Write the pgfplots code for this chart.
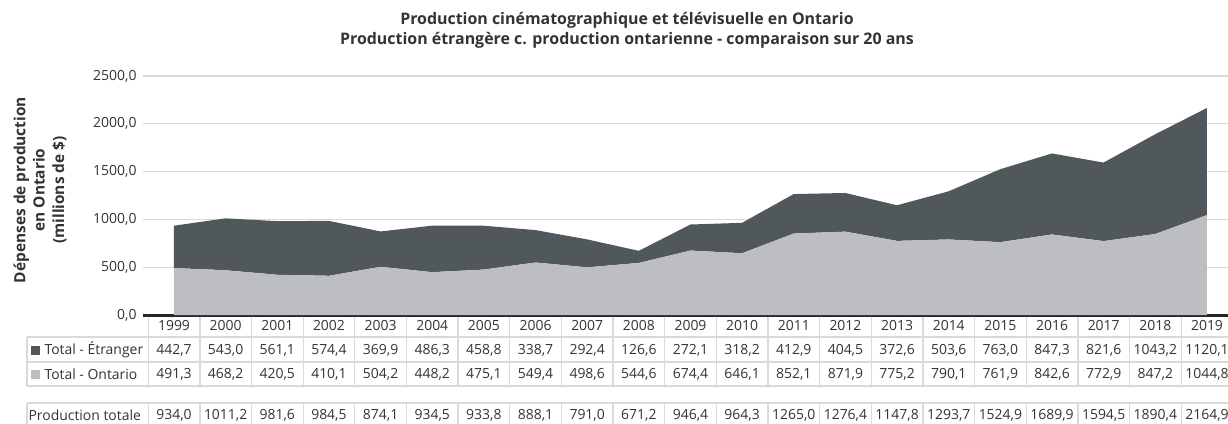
\documentclass[border=0pt]{standalone}
\usepackage{fontspec}
\setmainfont{Open Sans}
\usepackage{pgfplots}
\usepackage{pgfplotstable}
\usetikzlibrary{calc}
\pgfplotsset{compat=1.18}
\definecolor{etr}{HTML}{51585B}
\definecolor{ont}{HTML}{BDBEC1}
\definecolor{gridc}{HTML}{D9D9D9}
\definecolor{txt}{HTML}{333333}

\pgfplotstableread{
x ontario etranger
0 491.3 442.7
1 468.2 543.0
2 420.5 561.1
3 410.1 574.4
4 504.2 369.9
5 448.2 486.3
6 475.1 458.8
7 549.4 338.7
8 498.6 292.4
9 544.6 126.6
10 674.4 272.1
11 646.1 318.2
12 852.1 412.9
13 871.9 404.5
14 775.2 372.6
15 790.1 503.6
16 761.9 763.0
17 842.6 847.3
18 772.9 821.6
19 847.2 1043.2
20 1044.8 1120.1
}\datatable

\newcommand{\tf}{\fontsize{14}{16}\selectfont}
\newcommand{\yf}{\fontsize{14}{16}\selectfont}

\begin{document}
\begin{tikzpicture}
\begin{axis}[
  scale only axis, width=1085bp, height=239bp,
  xmin=-0.6, xmax=20.41, ymin=0, ymax=2500,
  ytick={0,500,...,2500},
  xtick=\empty,
  ymajorgrids,
  grid style={gridc, line width=1.3bp},
  axis x line*=bottom, axis y line*=left,
  y axis line style={draw=none},
  x axis line style={draw=black!85, line width=3bp, -},
  major tick length=0pt,
  stack plots=y,
  /pgf/number format/.cd, fixed, fixed zerofill, precision=1, use comma, 1000 sep={}, assume math mode=true,
  /pgfplots/.cd,
  yticklabel style={font=\yf, text=txt, anchor=east, xshift=-3bp},
]
\addplot[fill=ont, draw=none] table[x=x, y=ontario] {\datatable} \closedcycle;
\addplot[fill=etr, draw=none] table[x=x, y=etranger] {\datatable} \closedcycle;
\coordinate (A) at (rel axis cs:0,0);
\end{axis}

\begin{scope}[shift={($(A)+(-143bp,-108bp)$)}, x=1bp, y=1bp]
% title
\node[font=\bfseries\fontsize{16}{20}\selectfont, text=txt, align=center] at (627,393)
  {Production cinématographique et télévisuelle en Ontario\\Production étrangère c. production ontarienne - comparaison sur 20 ans};

% y label
\node[font=\bfseries\fontsize{15.5}{19.5}\selectfont, text=txt, align=center, rotate=90] at (40,233)
  {Dépenses de production\\en Ontario\\(millions de \$)};

% table grid
\begin{scope}[draw=gridc, line width=1.3bp]
  \draw (27,86) -- (1228,86);
  \draw (27,61) -- (1228,61);
  \draw (27,37) -- (1228,37);
  \draw (27,20) -- (1228,20);
  \draw (27,86) -- (27,37);
  \draw (27,20) -- (27,-5);
  \foreach \k in {0,...,20} {
    \draw ({148.2+51.65*\k},106.5) -- ({148.2+51.65*\k},37);
    \draw ({148.2+51.65*\k},20) -- ({148.2+51.65*\k},-5);
  }
\end{scope}

% header years
\foreach \v [count=\i from 0] in {1999,2000,2001,2002,2003,2004,2005,2006,2007,2008,2009,2010,2011,2012,2013,2014,2015,2016,2017,2018,2019}
  \node[font=\tf, text=txt] at ({174+51.65*\i},97) {\v};

\foreach \v [count=\i from 0] in {{442,7},{543,0},{561,1},{574,4},{369,9},{486,3},{458,8},{338,7},{292,4},{126,6},{272,1},{318,2},{412,9},{404,5},{372,6},{503,6},{763,0},{847,3},{821,6},{1043,2},{1120,1}}
  \node[font=\tf, text=txt] at ({174+51.65*\i},73) {\v};

\foreach \v [count=\i from 0] in {{491,3},{468,2},{420,5},{410,1},{504,2},{448,2},{475,1},{549,4},{498,6},{544,6},{674,4},{646,1},{852,1},{871,9},{775,2},{790,1},{761,9},{842,6},{772,9},{847,2},{1044,8}}
  \node[font=\tf, text=txt] at ({174+51.65*\i},49) {\v};

\foreach \v [count=\i from 0] in {{934,0},{1011,2},{981,6},{984,5},{874,1},{934,5},{933,8},{888,1},{791,0},{671,2},{946,4},{964,3},{1265,0},{1276,4},{1147,8},{1293,7},{1524,9},{1689,9},{1594,5},{1890,4},{2164,9}}
  \node[font=\tf, text=txt] at ({174+51.65*\i},8) {\v};

% row labels
\fill[etr] (31.5,68.5) rectangle (40.5,77.5);
\node[font=\tf, text=txt, anchor=west] at (41,73) {Total - Étranger};
\fill[ont] (31.5,44.5) rectangle (40.5,53.5);
\node[font=\tf, text=txt, anchor=west] at (41,49) {Total - Ontario};
\node[font=\tf, text=txt, anchor=west] at (25,8) {Production totale};

\pgfresetboundingbox
\path[use as bounding box] (0,0) rectangle (1228,423);
\end{scope}
\end{tikzpicture}
\end{document}
